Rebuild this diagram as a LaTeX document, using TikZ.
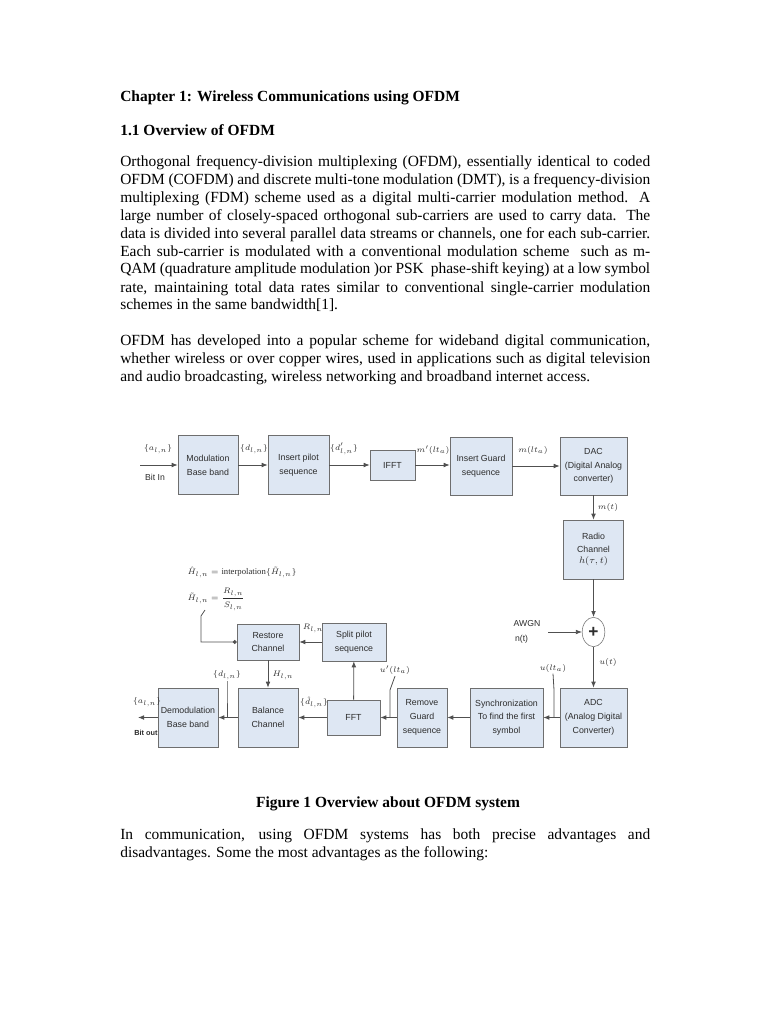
\documentclass[tikz,border=0pt]{standalone}
\usepackage{fontspec}
\setmainfont{Liberation Serif}
\setsansfont{Liberation Sans}
\usetikzlibrary{arrows.meta,shapes.geometric}
\definecolor{boxfill}{RGB}{222,231,243}
\definecolor{boxline}{RGB}{110,110,110}
\definecolor{wirecol}{RGB}{80,80,80}
\definecolor{inkgray}{RGB}{45,45,45}
\tikzset{page/.style={x=0.75pt,y=-0.75pt,>={Latex[length=4.5pt,width=3.5pt]}}}
\tikzset{blk/.style 2 args={draw=boxline,fill=boxfill,align=center,inner sep=1pt,
           minimum width=#1*0.75pt,minimum height=#2*0.75pt,
           font=\sffamily\fontsize{6.6}{10.3}\selectfont,text=inkgray},
         wire/.style={wirecol,line width=0.6pt},
         sig/.style={font=\fontsize{6.5}{7.5}\selectfont,text=inkgray,inner sep=1pt},
         note/.style={font=\sffamily\fontsize{6.5}{11}\selectfont,text=inkgray,inner sep=1pt,align=left},
         body/.style={anchor=base west,inner sep=0pt,text width=397.5pt,align=justify,
           font=\fontsize{11.6}{13.5}\selectfont}}

\begin{document}
\begin{tikzpicture}[page]
    \fill[white] (0,0) rectangle (768,1024);
    \useasboundingbox (0,0) rectangle (768,1024);
    % headings and text
    \node[body] (chap) at (120,101) {\bfseries Chapter 1: Wireless Communications using OFDM};
    \node[body] (sec) at (120,135) {\bfseries 1.1 Overview of OFDM};
    \node[body] (para1) at (120,166) {Orthogonal frequency-division multiplexing (OFDM), essentially identical to coded\linebreak
      OFDM (COFDM) and discrete multi-tone modulation (DMT), is a frequency-division\linebreak
      multiplexing (FDM) scheme used as a digital multi-carrier modulation method. A\linebreak
      large number of closely-spaced orthogonal sub-carriers are used to carry data. The\linebreak
      data is divided into several parallel data streams or channels, one for each sub-carrier.\linebreak
      Each sub-carrier is modulated with a conventional modulation scheme \ such as m-\linebreak
      QAM (quadrature amplitude modulation )or PSK \ phase-shift keying) at a low symbol\linebreak
      rate, maintaining total data rates similar to conventional single-carrier modulation\linebreak
      schemes in the same bandwidth[1].};
    \node[body] (para2) at (120,345) {OFDM has developed into a popular scheme for wideband digital communication,\linebreak
      whether wireless or over copper wires, used in applications such as digital television\linebreak
      and audio broadcasting, wireless networking and broadband internet access.};
    % transmitter
    \node[note] (bitinlbl) at (155,477) {Bit In};
    \coordinate (bitin) at (140,465);
    \node[blk={60}{59}] (mod) at (208,465) {Modulation\\Base band};
    \node[blk={61}{59}] (pilot) at (298.5,465) {Insert pilot\\sequence};
    \node[blk={45}{30}] (ifft) at (392.5,465) {IFFT};
    \node[blk={62}{58}] (guard) at (481,466) {Insert Guard\\sequence};
    \node[blk={67}{58}] (dac) at (593.5,466) {DAC\\(Digital Analog\\converter)};
    \node[blk={60}{59}] (radio) at (593.5,549.5) {Radio\\Channel\\[-2pt]\rmfamily$h(\tau,t)$};
    \node[draw=boxline,fill=white,ellipse,minimum width=17pt,minimum height=22pt,inner sep=0pt,
          font=\sffamily\bfseries\fontsize{13}{13}\selectfont,text=inkgray] (sum) at (593.5,632) {+};
    \node[note] (awgn) at (527,632) {AWGN\\\,n(t)};
    \coordinate (noise) at (548,632);
    % receiver
    \node[blk={67}{59}] (adc) at (593.5,717.5) {ADC\\(Analog Digital\\Converter)};
    \node[blk={73}{59}] (sync) at (506.5,717.5) {Synchronization\\To find the first\\symbol};
    \node[blk={50}{59}] (rmg) at (422,717.5) {Remove\\Guard\\sequence};
    \node[blk={53}{35}] (fft) at (353.5,717.5) {FFT};
    \node[blk={60}{59}] (bal) at (268,717.5) {Balance\\Channel};
    \node[note,font=\sffamily\bfseries\fontsize{5.5}{6}\selectfont] (bitoutlbl) at (146,733) {Bit out};
    \node[blk={60}{59}] (demod) at (188,717.5) {Demodulation\\Base band};
    \coordinate (bitout) at (138,717.5);
    \node[blk={64}{38}] (split) at (354,642) {Split pilot\\sequence};
    \node[blk={62}{36}] (restore) at (268,642) {Restore\\Channel};
    % connectors
    \draw[wire,->] (bitin) -- (mod);
    \draw[wire,->] (mod) -- (pilot);
    \draw[wire,->] (pilot) -- (ifft);
    \draw[wire,->] (ifft.east) -- (ifft.east -| guard.west);
    \draw[wire,->] (guard) -- (dac);
    \draw[wire,->] (dac) -- (radio);
    \draw[wire,->] (radio) -- (sum);
    \draw[wire,->] (noise) -- (sum);
    \draw[wire,->] (sum) -- (adc);
    \draw[wire,->] (adc) -- (sync);
    \draw[wire,->] (sync) -- (rmg);
    \draw[wire,->] (rmg) -- (fft);
    \draw[wire,->] (fft) -- (bal);
    \draw[wire,->] (bal) -- (demod);
    \draw[wire,->] (demod) -- (bitout);
    \draw[wire,->] (fft) -- (split);
    \draw[wire,->] (split) -- (restore);
    \draw[wire,->] (restore) -- (bal);
    % signal labels
    \node[sig] (ain) at (158,449) {$\{a_{l,n}\}$};
    \node[sig] (din) at (254,449) {$\{d_{l,n}\}$};
    \node[sig] (dpil) at (344,449) {$\{d'_{l,n}\}$};
    \node[sig] (mprime) at (433,450) {$m'(lt_a)$};
    \node[sig] (mlt) at (533,450) {$m(lt_a)$};
    \node[sig] (mt) at (608,507) {$m(t)$};
    \node[sig] (ut) at (608,662) {$u(t)$};
    \node[sig] (ulta) at (553,668) {$u(lt_a)$};
    \node[sig] (uplta) at (395,670) {$u'(lt_a)$};
    \node[sig] (rln) at (313,628) {$R_{l,n}$};
    \node[sig] (hln) at (283,675) {$H_{l,n}$};
    \node[sig] (dln) at (227,675) {$\{d_{l,n}\}$};
    \node[sig] (dhat) at (314,702) {$\{\hat{d}_{l,n}\}$};
    \node[sig] (aout) at (147,702) {$\{a_{l,n}\}$};
    \node[sig,anchor=west] (interp) at (186,572) {$\hat{H}_{l,n}=\mathrm{interpolation}\{\tilde{H}_{l,n}\}$};
    \node[sig,anchor=west] (hest) at (186,599) {$\displaystyle\tilde{H}_{l,n}=\frac{R_{l,n}}{S_{l,n}}$};
    % leaders
    \coordinate (k1) at (554,690);
    \coordinate (k2) at (390,690);
    \coordinate (k3) at (227,689);
    \coordinate (fb) at (201,616);
    \coordinate (fbtip) at (205,610);
    \draw[wire] (ulta.south) -- (k1) -- (k1 |- adc.west);
    \draw[wire] (uplta.south) -- (k2) -- (k2 |- rmg.west);
    \draw[wire] (dln.south) -- (k3) -- (k3 |- bal.west);
    \draw[wire,{Circle[length=3pt]}-] (restore.west) -| (fb) -- (fbtip);
    % caption and closing text
    \node[anchor=base,inner sep=0pt,font=\fontsize{11.6}{13.5}\selectfont\bfseries] (cap) at (388,807) {Figure 1 Overview about OFDM system};
    \node[body] (para3) at (120,839) {In communication, using OFDM systems has both precise advantages and\linebreak
      disadvantages. Some the most advantages as the following:};
  \end{tikzpicture}
\end{document}
